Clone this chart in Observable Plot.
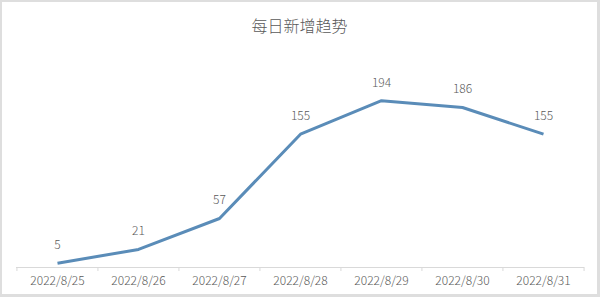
<!DOCTYPE html>
<html>
<head>
<meta charset="utf-8">
<script src="https://cdn.jsdelivr.net/npm/d3@7"></script>
<script src="https://cdn.jsdelivr.net/npm/@observablehq/plot@0.6"></script>
<style>
  html, body { margin: 0; padding: 0; background: #fff; }
  #frame {
    width: 600px; height: 297px; box-sizing: border-box;
    border-style: solid; border-color: #dedede;
    border-width: 2px 3px 3px 2px;
    background: #fff;
    font-family: "Noto Sans CJK SC", "Liberation Sans", sans-serif;
  }
  #title {
    height: 30px; padding-top: 8px; line-height: 30px;
    text-align: center; font-size: 16px; font-weight: 300; color: #595959;
  }
  #chart svg { display: block; }
</style>
</head>
<body>
<div id="frame">
  <div id="title">每日新增趋势</div>
  <div id="chart"></div>
</div>
<script>
// Daily new cases, 25–31 August 2022
const dates = ["2022/8/25", "2022/8/26", "2022/8/27", "2022/8/28", "2022/8/29", "2022/8/30", "2022/8/31"];
const counts = [5, 21, 57, 155, 194, 186, 155];

const rows = dates.map((d, i) => ({date: d, count: counts[i]}));

const W = 595, H = 254, ML = 14, MR = 13, MT = 12, MB = 27;
const step = (W - ML - MR) / dates.length;
const lineColor = "#5a8cb8";
const textColor = "#595959";
const gridColor = "#d9d9d9";

const chart = Plot.plot({
  width: W,
  height: H,
  marginLeft: ML,
  marginRight: MR,
  marginTop: MT,
  marginBottom: MB,
  style: {fontFamily: '"Noto Sans CJK SC", "Liberation Sans", sans-serif', fontSize: "12px", fontWeight: 300, color: textColor, background: "#fff"},
  x: {type: "point", domain: dates, padding: 0.5, label: null},
  y: {domain: [0, 250], axis: null},
  marks: [
    // category axis line
    Plot.ruleY([0], {stroke: gridColor, strokeWidth: 1}),
    // tick marks on the category boundaries
    Plot.axisX({ticks: dates, tickSize: 4, tickFormat: () => "", stroke: gridColor, dx: -step / 2, label: null}),
    Plot.axisX({ticks: dates.slice(-1), tickSize: 4, tickFormat: () => "", stroke: gridColor, dx: step / 2, label: null}),
    // category labels
    Plot.axisX({tickSize: 0, tickPadding: 9, fill: textColor, fontSize: 12, label: null}),
    Plot.line(rows, {x: "date", y: "count", stroke: lineColor, strokeWidth: 3, strokeLinejoin: "round", strokeLinecap: "butt"}),
    Plot.text(rows, {x: "date", y: "count", text: d => String(d.count), dy: -18, fill: textColor, fontSize: 12})
  ]
});

document.getElementById("chart").appendChild(chart);
</script>
</body>
</html>
